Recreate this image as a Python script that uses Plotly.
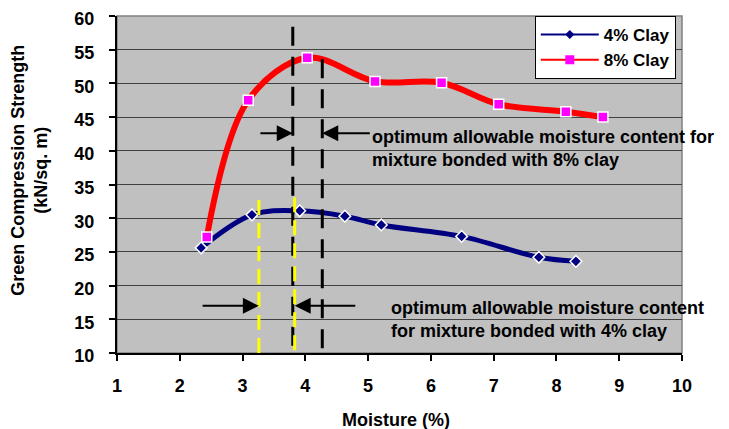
import plotly.graph_objects as go

# ---- data ----
moist_4 = [2.34, 3.15, 3.91, 4.63, 5.21, 6.49, 7.72, 8.31]
gcs_4 = [25.6, 30.5, 31.1, 30.3, 29.0, 27.3, 24.2, 23.6]
moist_8 = [2.43, 3.09, 4.03, 5.11, 6.17, 7.08, 8.15, 8.74]
gcs_8 = [27.2, 47.5, 53.8, 50.3, 50.1, 46.9, 45.8, 45.0]
series_names = ["4% Clay", "8% Clay"]

opt_8 = [3.80, 4.27]   # optimum moisture range, 8% clay
opt_4 = [3.26, 3.83]   # optimum moisture range, 4% clay
note_8 = "optimum allowable moisture content for<br>mixture bonded with 8% clay"
note_4 = "optimum allowable moisture content<br>for mixture bonded with 4% clay"
x_title = "Moisture (%)"
y_title = "Green Compression Strength<br>(kN/sq. m)"

x_ticks = list(range(1, 11))
y_ticks = list(range(10, 61, 5))

FONT = "Arial, Liberation Sans, sans-serif"
NAVY = "#000080"
RED = "#FF0000"
MAG = "#FF00FF"
FS = 18

fig = go.Figure()

# data traces (thick smooth lines)
fig.add_trace(go.Scatter(x=moist_4, y=gcs_4, mode="lines+markers", showlegend=False,
                         line=dict(color=NAVY, width=5, shape="spline", smoothing=1.0),
                         marker=dict(symbol="diamond", size=9, color=NAVY,
                                     line=dict(color="white", width=1.5))))
fig.add_trace(go.Scatter(x=moist_8, y=gcs_8, mode="lines+markers", showlegend=False,
                         line=dict(color=RED, width=6, shape="spline", smoothing=1.0),
                         marker=dict(symbol="square", size=10, color=MAG,
                                     line=dict(color="white", width=1.5))))
# legend entries (thin lines)
fig.add_trace(go.Scatter(x=[None], y=[None], mode="lines+markers",
                         name="<b>" + series_names[0] + "</b>",
                         line=dict(color=NAVY, width=2),
                         marker=dict(symbol="diamond", size=7, color=NAVY)))
fig.add_trace(go.Scatter(x=[None], y=[None], mode="lines+markers",
                         name="<b>" + series_names[1] + "</b>",
                         line=dict(color=RED, width=2),
                         marker=dict(symbol="square", size=9, color=MAG)))

shapes = []
# vertical dashed markers of optimum ranges
shapes.append(dict(type="line", xref="x", yref="y", x0=opt_8[0], x1=opt_8[0], y0=58.4, y1=9.4,
                   line=dict(color="black", width=3, dash="19px,11px")))
shapes.append(dict(type="line", xref="x", yref="y", x0=opt_8[1], x1=opt_8[1], y0=53.6, y1=9.4,
                   line=dict(color="black", width=3, dash="19px,11px")))
shapes.append(dict(type="line", xref="x", yref="y", x0=opt_4[0], x1=opt_4[0], y0=32.7, y1=9.4,
                   line=dict(color="#FFFF00", width=3, dash="15px,8px")))
shapes.append(dict(type="line", xref="x", yref="y", x0=opt_4[1], x1=opt_4[1], y0=33.1, y1=10.1,
                   line=dict(color="#FFFF00", width=3, dash="15px,8px")))
# plot area border (gray top/right)
shapes.append(dict(type="rect", xref="paper", yref="paper", x0=0, x1=1, y0=0, y1=1,
                   line=dict(color="#808080", width=1.5), layer="below"))

annotations = []
def arrow(x_head, x_tail, y):
    return dict(x=x_head, y=y, ax=x_tail, ay=y, xref="x", yref="y", axref="x", ayref="y",
                showarrow=True, arrowhead=2, arrowsize=1.6, arrowwidth=2,
                arrowcolor="black", text="")

annotations += [arrow(opt_8[0], 3.26, 42.6), arrow(opt_8[1], 5.05, 42.6),
                arrow(opt_4[0], 2.34, 17.0), arrow(opt_4[1], 4.82, 17.0)]
annotations.append(dict(x=5.03, y=40.3, xref="x", yref="y", text="<b>" + note_8 + "</b>",
                        showarrow=False, xanchor="left", yanchor="middle", align="left",
                        font=dict(family=FONT, size=FS, color="black")))
annotations.append(dict(x=5.34, y=14.9, xref="x", yref="y", text="<b>" + note_4 + "</b>",
                        showarrow=False, xanchor="left", yanchor="middle", align="left",
                        font=dict(family=FONT, size=FS, color="black")))
# axis titles
annotations.append(dict(x=-0.156, y=0.543, xref="paper", yref="paper", text="<b>" + y_title + "</b>",
                        textangle=-90, showarrow=False, xanchor="center", yanchor="middle",
                        align="center", font=dict(family=FONT, size=FS, color="black")))
annotations.append(dict(x=0.494, y=-0.20, xref="paper", yref="paper", text="<b>" + x_title + "</b>",
                        showarrow=False, xanchor="center", yanchor="middle",
                        font=dict(family=FONT, size=FS, color="black")))

# the page body has an 8px margin; size the figure so the plot area lands where the reference has it
fig.update_layout(
    width=721, height=421,
    margin=dict(l=109, r=47, t=8, b=76, autoexpand=False),
    paper_bgcolor="white", plot_bgcolor="#C0C0C0",
    font=dict(family=FONT, size=FS, color="black"),
    shapes=shapes, annotations=annotations,
    legend=dict(x=0.989, y=1.0, xanchor="right", yanchor="top",
                bgcolor="white", bordercolor="black", borderwidth=1,
                font=dict(family=FONT, size=17, color="black"),
                itemwidth=58, tracegroupgap=0),
    xaxis=dict(range=[1, 10], tickvals=x_ticks, ticktext=["<b>%d</b>" % v for v in x_ticks],
               showgrid=False, zeroline=False, automargin=False,
               showline=True, linecolor="black", linewidth=2,
               ticks="outside", ticklen=6, tickcolor="black", tickwidth=1.5,
               ticklabelstandoff=9, ticklabeloverflow="allow",
               tickfont=dict(family=FONT, size=FS)),
    yaxis=dict(range=[10, 60], tickvals=y_ticks, ticktext=["<b>%d</b>" % v for v in y_ticks],
               showgrid=True, gridcolor="#404040", gridwidth=1,
               zeroline=False, automargin=False, showline=True, linecolor="black", linewidth=2,
               ticks="outside", ticklen=6, tickcolor="black", tickwidth=1.5,
               ticklabelstandoff=11, ticklabelshift=3, ticklabeloverflow="allow",
               tickfont=dict(family=FONT, size=FS)),
)

fig.write_html("out.html")
